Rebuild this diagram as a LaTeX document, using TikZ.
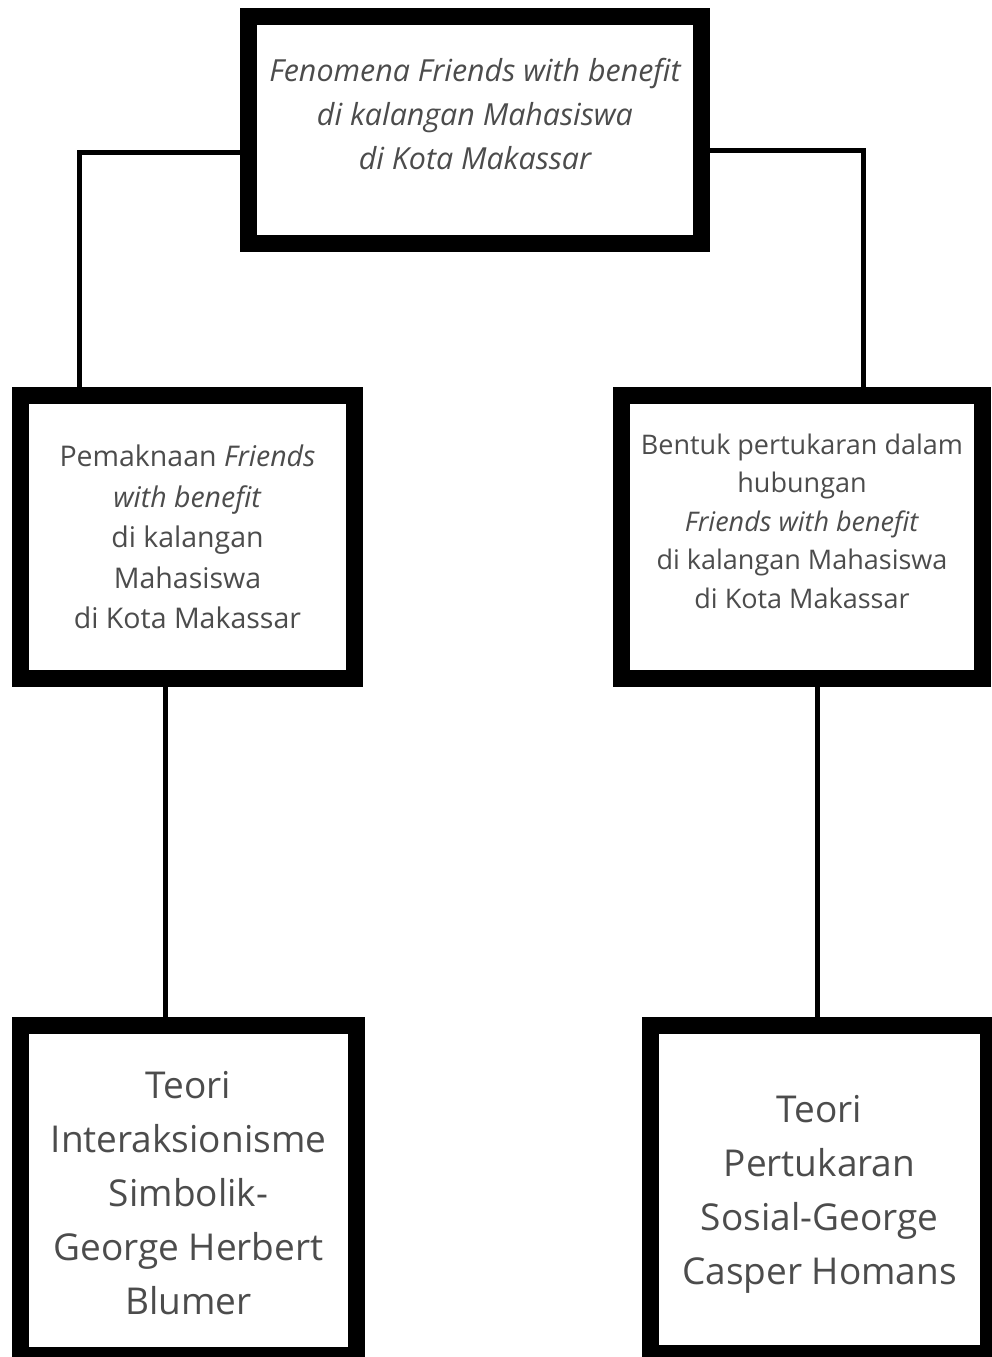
\documentclass[tikz,border=0pt]{standalone}
\usepackage{fontspec}
\setmainfont{Open Sans}
\usepackage{xcolor}
\usepackage{tikz}
\usetikzlibrary{positioning}
\colorlet{txtgray}{black!70}
\tikzstyle{frame}=[draw=black,line width=17pt,fill=white,inner sep=0pt]
\tikzstyle{conn}=[line width=5pt]
\tikzstyle{txt}=[align=center,text=txtgray,inner sep=0pt]
\tikzstyle{big}=[txt,font=\fontsize{37}{54}\selectfont]
\tikzstyle{midl}=[txt,font=\fontsize{28.5}{40.5}\selectfont]
\tikzstyle{midr}=[txt,font=\fontsize{27}{38.5}\selectfont]
\tikzstyle{head}=[txt,font=\fontsize{30.4}{44}\selectfont\itshape]
\begin{document}
\begin{tikzpicture}[x=1pt,y=-1pt]
	\useasboundingbox[fill=white] (0,0) rectangle (991,1357);
	\coordinate (lbend) at (79,152);
	\coordinate (rbend) at (863,150);
	\draw[conn] (475,152) -- (lbend) -- (79,395);
	\draw[conn] (475,150) -- (rbend) -- (863,395);
	\draw[conn] (165,537) -- (165,1190);
	\draw[conn] (817,537) -- (817,1190);
	\node[frame,minimum width=453pt,minimum height=227pt] (top)  at (475,130)    {};
	\node[frame,minimum width=334pt,minimum height=283pt] (lmid) at (187.5,537)  {};
	\node[frame,minimum width=361pt,minimum height=283pt] (rmid) at (802,537)    {};
	\node[frame,minimum width=336pt,minimum height=330pt] (lbot) at (188.5,1190.5) {};
	\node[frame,minimum width=338pt,minimum height=328pt] (rbot) at (819.5,1189) {};
	\node[head,yshift=16pt] (toptxt) at (top) {Fenomena Friends with benefit\\di kalangan Mahasiswa\\di Kota Makassar};
	\node[midl] (lmidtxt) at (lmid) {Pemaknaan \textit{Friends}\\\textit{with benefit}\\di kalangan\\Mahasiswa\\di Kota Makassar};
	\node[midr,yshift=16pt] (rmidtxt) at (rmid) {Bentuk pertukaran dalam\\hubungan\\\textit{Friends with benefit}\\di kalangan Mahasiswa\\di Kota Makassar};
	\node[big,yshift=-3pt] (lbottxt) at (lbot) {Teori\\Interaksionisme\\Simbolik-\\George Herbert\\Blumer};
	\node[big,yshift=-5pt] (rbottxt) at (rbot) {Teori\\Pertukaran\\Sosial-George\\Casper Homans};
\end{tikzpicture}
\end{document}
